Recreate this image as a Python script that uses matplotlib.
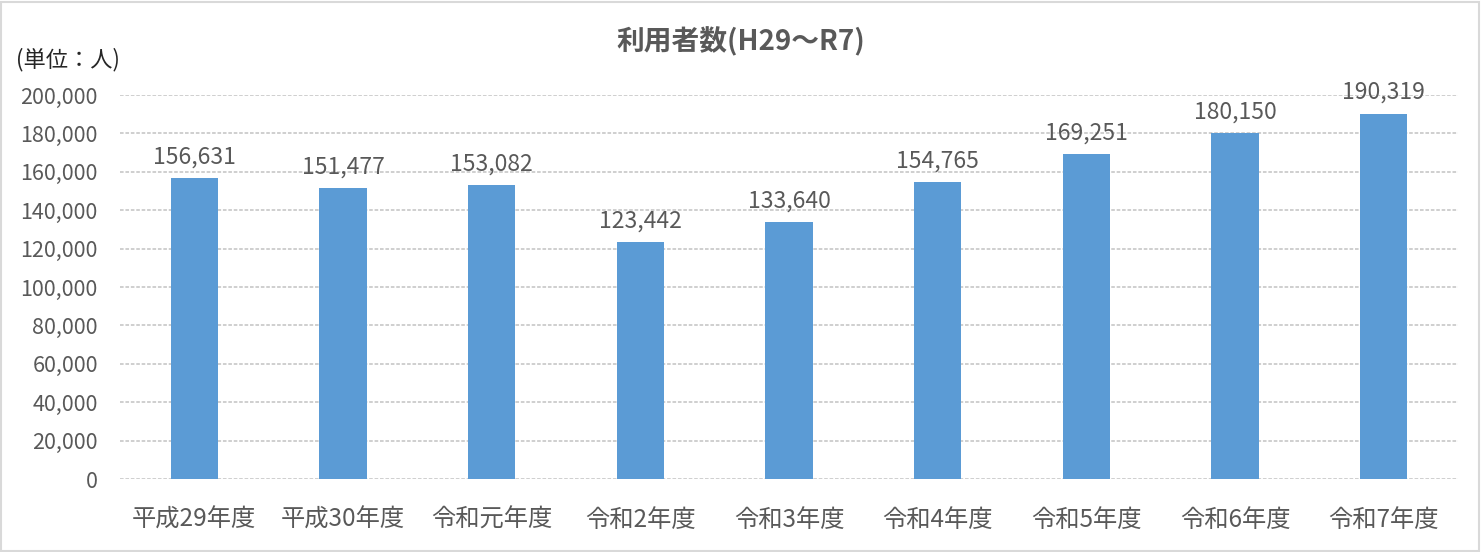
import matplotlib.pyplot as plt
from matplotlib.ticker import FuncFormatter

plt.rcParams['font.family'] = ['Noto Sans CJK JP', 'DejaVu Sans']

# data
years = ['平成29年度', '平成30年度', '令和元年度', '令和2年度', '令和3年度',
         '令和4年度', '令和5年度', '令和6年度', '令和7年度']
users = [156631, 151477, 153082, 123442, 133640, 154765, 169251, 180150, 190319]

text_color = '#595959'
bar_color = '#5B9BD5'

fig = plt.figure(figsize=(14.82, 5.52), dpi=100)
ax = fig.add_axes([0.081, 0.1322, 0.9028, 0.6957])

x = range(len(years))
bars = ax.bar(x, users, width=0.32, color=bar_color, zorder=3)

ax.set_xlim(-0.5, len(years) - 0.5)
ax.set_ylim(0, 200000)
ax.set_yticks(range(0, 200001, 20000))
ax.yaxis.set_major_formatter(FuncFormatter(lambda v, p: f'{int(v):,}'))
ax.set_xticks(list(x))
ax.set_xticklabels(years)

ax.grid(axis='y', color='#cccccc', linewidth=1.3, linestyle=(0, (2, 1)), zorder=0)
for s in ax.spines.values():
    s.set_visible(False)
ax.tick_params(axis='both', length=0, colors=text_color)
ax.tick_params(axis='y', pad=16, labelsize=15.5)
ax.tick_params(axis='x', pad=20, labelsize=17.5)

# data labels
for b, v in zip(bars, users):
    ax.annotate(f'{v:,}', (b.get_x() + b.get_width() / 2, v),
                xytext=(0, 7), textcoords='offset points',
                ha='center', va='bottom', fontsize=16.5, color=text_color)

fig.text(0.5, 0.925, '利用者数(H29～R7)', ha='center', va='center',
         fontsize=20, fontweight='bold', color=text_color)
fig.text(0.011, 0.892, '(単位：人)', ha='left', va='center',
         fontsize=16, color='#262626')

# chart border
fig.patches.append(plt.Rectangle((0.001, 0.002), 0.997, 0.995, transform=fig.transFigure,
                                 fill=False, edgecolor='#d9d9d9', linewidth=1.5))

fig.savefig('out.png', dpi=100)
